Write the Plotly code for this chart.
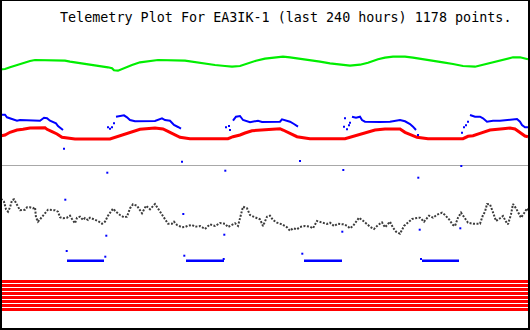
import plotly.graph_objects as go

TITLE = "Telemetry Plot For EA3IK-1 (last 240 hours) 1178 points."

# ---- upper panel (values in plot units, time axis in sample columns) ----
green_t = [0,5,10,15,20,25,30,35,60,65,70,80,90,100,108,112,114,118,122,126,
           132,140,150,158,185,195,205,215,225,232,240,248,256,265,275,283,290,300,310,320,
           330,340,350,360,368,378,385,393,405,413,423,433,443,453,463,475,483,493,503,513,
           520,528]
green_v = [69.3,69,67.3,65.7,64,62.7,61,60,60,60.7,61.7,63,64.3,66,67.3,68.3,70.3,70.7,69,67.3,
           65,62.3,61,60,60.7,62.3,64,65,66,66.7,66,63.3,60.7,58.7,57.3,56.7,57.3,59,60.3,61.7,
           63.3,64.7,65.7,64.7,62.7,59.3,57.7,56.7,56.7,57.7,59,60.7,62.3,64,66,66.7,64.7,61.7,59.3,57.3,
           57.3,59.3]

red_t = [0,5,10,17,23,30,45,47,52,57,62,70,75,110,113,118,125,133,140,155,
         163,168,174,180,190,228,233,240,245,252,265,275,280,283,290,297,305,310,345,350,
         355,362,368,375,385,400,405,410,417,428,463,468,473,480,490,503,510,515,520,525,528]
red_v = [136,135,132.3,130,129.3,128,127.7,129.3,131.7,134,137.3,138,139,139,138,136,134,131.3,129.3,128,
         129,131.3,134.3,137.3,138.7,138.7,136.7,135,133,130.7,129.7,128.7,128.7,130,133.3,136.7,138,138.7,138.7,137.3,
         136,134,131.7,130,129,129,132.3,134.7,137.3,138.7,138.7,136.3,135.7,133.3,130,128.7,128,129,132.7,136,136.7]

blue_t = [2,5,7,10,13,17,20,30,40,44,47,50,53,56,58,61,63, None,
          116,120,124,127,130,135,145,155,162,165,170,174,178,181, None,
          233,236,240,243,250,258,262,270,280,282,286,290,294,298, None,
          352,356,360,362,365,370,380,390,400,405,410,413,416, None,
          470,475,480,483,487,493,500,507,517,520,522,525,528]
blue_v = [114.7,114.7,117.3,118.3,120,120.7,120,120.7,120.7,117.7,118.3,120.7,121.7,123.3,126,128.3,130, None,
          116.7,116,115.3,117.3,120,121.3,121,121,118.3,120,120.7,125,127,128.7, None,
          120.7,116.7,116,120,122.3,120.7,122,121.7,121.7,119.3,120.7,121.7,124,126.7, None,
          116.7,117.7,116.7,120,121.7,122,122,121.7,120,121.3,124,126.7,130, None,
          115,116.7,116.7,118.3,121.7,120.7,120.7,120,119,121.7,125,127.3,127.3]
blue_dot_t = [64,108,110,112,114,182,226,229,230,300,344,345,347,349,350,418,462,464,466,468]
blue_dot_v = [148.7,127.3,128.7,127.3,123.3,161.7,127.3,126,130,161,126.7,118.3,129.3,125.3,122.7,135,132.7,127.3,125.3,121.7]

# ---- lower panel ----
gray_t = [1,4,6,8,10,12,14,16,18,20,25,27,30,33,35,36,38,41,44,48,55,58,60,63,67,70,72,75,77,80,
          83,85,88,90,94,98,102,105,108,113,116,120,124,127,130,133,137,140,142,146,150,155,158,162,165,
          168,172,174,177,182,185,188,192,195,200,205,210,215,220,225,228,232,235,238,240,243,247,250,
          255,260,263,267,270,273,277,282,287,290,293,297,300,305,310,313,317,322,327,330,334,338,343,347,
          350,353,356,359,363,367,370,374,378,382,385,390,393,396,400,404,408,412,415,420,424,429,433,437,
          442,445,449,453,455,458,461,465,468,473,477,480,483,485,487,490,493,496,500,503,506,508,511,513,
          516,519,521,524,527,529]
gray_v = [198.7,201.7,209.3,211.7,207.3,200.3,199.3,203.3,207.7,210.3,209.7,207.3,207.3,208.3,207.3,217.3,221.7,218.3,214.3,209.7,
          210.3,211.7,217.3,218.3,217.7,215.7,219,223.3,217.7,216.7,220,218,220,217.7,219.3,221,223.7,221.7,215.7,208.7,
          211.7,215,217.3,216.7,208.3,204.3,205.7,211,213.3,205.7,209.3,204,208.3,214.3,218.3,223.7,223.7,221.7,225,227.3,
          227,225.7,225,226.7,226,229,224.3,226,223,223.7,227,225,223.3,226,218.3,206.7,208.3,215,217.3,219.3,
          226,216.7,215.7,220,222.7,224.3,227.3,230.7,228.3,229.3,227,226,226.7,228.3,221,222.3,224,222.7,226,223.7,
          224.3,225.7,228.3,226,221.7,217.7,220.7,224,226.7,229,225,222.3,227.3,221.7,227.7,231.7,233.7,226,222.3,219,
          218.3,217.7,221.7,215.7,217.7,214.7,212.7,215,219.3,225,226,217.7,212.7,218.3,222.7,223.7,223.7,223.7,215,211.7,
          204,204.3,212.3,221,218.3,216,221.7,224.3,214.3,204,208.3,215,217.7,213.3,208.3,211]

low_blue_t = [67,104,None,186,224,None,304,342,None,422,459]
low_blue_v = [260.7,260.7,None,260.7,260.7,None,260.7,260.7,None,260.7,260.7]
low_dot_t = [65.3,66.7,105.3,106.3,107.3,183.3,184.3,223.7,224.3,225.3,302.3,342.3,343.3,418.3,419.7,421,460.3,461.3]
low_dot_v = [199.7,251,256.7,235.7,172.7,214,255.7,259,234.7,170.7,253.7,231.7,170,177.7,229.7,259,228.3,166]

bit_t = [2, 528]
bit_levels = [281.5, 285.5, 289.5, 293.5, 297.5, 301.5, 305.5, 309.5]

fig = go.Figure()

def add_line(t, v, color, width, dash="solid"):
    fig.add_trace(go.Scatter(x=t, y=v, mode="lines", line=dict(color=color, width=width, dash=dash),
                             connectgaps=False, hoverinfo="skip", showlegend=False))

def add_dots(t, v, color, size):
    fig.add_trace(go.Scatter(x=t, y=v, mode="markers",
                             marker=dict(color=color, size=size, symbol="square", line=dict(width=0)),
                             hoverinfo="skip", showlegend=False))

add_line(green_t, green_v, "#00ee00", 2.2)
add_line(red_t, red_v, "#ff0000", 3)
add_line(blue_t, blue_v, "#0000ff", 2)
add_dots(blue_dot_t, blue_dot_v, "#0000ff", 2)

add_line(gray_t, gray_v, "#3c3c3c", 2, dash="2px,1.5px")
add_line(low_blue_t, low_blue_v, "#0000ff", 2.5)
add_dots(low_dot_t, low_dot_v, "#0000ff", 2)

for lvl in bit_levels:
    add_line(bit_t, [lvl, lvl], "#ff0000", 3)

# separator and frame
fig.add_shape(type="line", x0=0, x1=530, y0=165.5, y1=165.5, line=dict(color="#a8a8a8", width=1), layer="below")
for (x0, x1, y0, y1) in [(0, 2, 0, 330), (0, 530, 0, 1), (528, 530, 0, 330), (0, 530, 328, 330)]:
    fig.add_shape(type="rect", x0=x0, x1=x1, y0=y0, y1=y1, fillcolor="black", line=dict(width=0))

fig.add_annotation(x=285, y=17.5, xref="x", yref="y", text=TITLE, showarrow=False,
                   xanchor="center", yanchor="middle",
                   font=dict(family="DejaVu Sans Mono", size=13.4, color="black"))

fig.update_layout(
    width=530, height=330, autosize=False,
    margin=dict(l=0, r=0, t=0, b=0, pad=0),
    paper_bgcolor="white", plot_bgcolor="white",
    xaxis=dict(range=[0, 530], visible=False, fixedrange=True),
    yaxis=dict(range=[330, 0], visible=False, fixedrange=True),
)

fig.write_html("out.html")
